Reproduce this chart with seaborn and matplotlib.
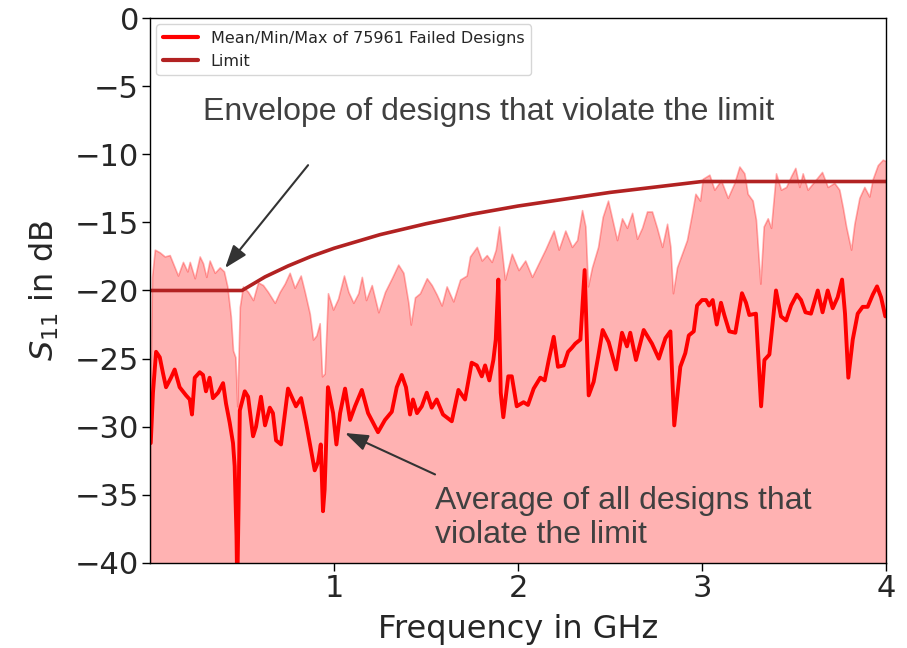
# S11 der fehlgeschlagenen Designs: Mittelwert, Hüllkurve und Grenzwert
import numpy as np
import matplotlib
matplotlib.use("Agg")
import matplotlib.pyplot as plt
import seaborn as sns

# --- Daten ---
mean_freq = [0.004, 0.016, 0.033, 0.053, 0.071, 0.087, 0.114, 0.134, 0.161, 0.196,
             0.216, 0.228, 0.243, 0.270, 0.288, 0.304, 0.324, 0.342, 0.370, 0.397,
             0.413, 0.433, 0.451, 0.460, 0.470, 0.474, 0.481, 0.488, 0.515, 0.533,
             0.560, 0.576, 0.603, 0.625, 0.651, 0.668, 0.685, 0.712, 0.750, 0.793,
             0.821, 0.848, 0.875, 0.895, 0.913, 0.928, 0.940, 0.949, 0.967, 0.995,
             1.013, 1.033, 1.060, 1.087, 1.114, 1.151, 1.185, 1.212, 1.239, 1.277,
             1.314, 1.341, 1.368, 1.391, 1.413, 1.429, 1.451, 1.477, 1.504, 1.531,
             1.558, 1.592, 1.640, 1.676, 1.712, 1.748, 1.776, 1.803, 1.821, 1.844,
             1.866, 1.879, 1.893, 1.906, 1.920, 1.947, 1.966, 1.993, 2.030, 2.054,
             2.085, 2.121, 2.145, 2.167, 2.194, 2.217, 2.248, 2.272, 2.293, 2.311,
             2.339, 2.362, 2.384, 2.411, 2.435, 2.460, 2.493, 2.533, 2.565, 2.592,
             2.610, 2.641, 2.683, 2.728, 2.765, 2.801, 2.828, 2.849, 2.882, 2.909,
             2.928, 2.955, 2.973, 3.000, 3.022, 3.038, 3.058, 3.080, 3.103, 3.121,
             3.148, 3.181, 3.217, 3.239, 3.257, 3.293, 3.321, 3.339, 3.366, 3.402,
             3.429, 3.457, 3.484, 3.515, 3.538, 3.562, 3.592, 3.629, 3.655, 3.683,
             3.710, 3.737, 3.761, 3.777, 3.795, 3.819, 3.846, 3.873, 3.900, 3.928,
             3.951, 3.973, 3.996]
mean_db = [-31.2, -27.5, -24.5, -24.9, -26.1, -27.1, -26.4, -25.8, -27.1, -27.7,
           -28.0, -29.1, -26.4, -26.0, -26.2, -27.4, -26.4, -27.9, -27.5, -26.8,
           -28.3, -29.7, -31.2, -32.9, -38.0, -42.0, -36.0, -28.8, -27.4, -27.8,
           -30.7, -30.0, -27.8, -29.9, -28.6, -29.0, -31.0, -31.3, -27.2, -28.5,
           -27.9, -29.7, -31.7, -33.2, -32.6, -31.3, -36.2, -34.6, -27.1, -29.0,
           -31.3, -29.0, -27.2, -29.5, -28.5, -27.3, -29.0, -29.7, -30.4, -29.5,
           -28.9, -27.1, -26.2, -27.1, -29.1, -28.0, -29.0, -28.5, -27.5, -28.6,
           -28.0, -29.1, -29.6, -27.3, -28.0, -25.3, -25.5, -26.3, -25.5, -26.6,
           -25.1, -23.6, -19.2, -27.5, -29.3, -26.3, -26.3, -28.5, -28.2, -28.4,
           -27.2, -26.4, -26.6, -25.1, -23.4, -25.6, -25.5, -24.5, -24.2, -23.9,
           -23.6, -18.5, -27.7, -26.7, -24.9, -22.9, -23.8, -25.8, -23.1, -24.1,
           -23.1, -25.1, -22.9, -23.9, -25.0, -23.5, -23.0, -29.9, -25.6, -24.6,
           -23.3, -23.0, -21.1, -20.7, -20.7, -21.1, -20.7, -22.5, -20.9, -21.8,
           -23.0, -23.1, -20.2, -20.9, -21.8, -21.7, -28.5, -25.1, -24.7, -20.0,
           -21.9, -22.2, -21.1, -20.3, -20.7, -21.6, -21.7, -20.0, -21.6, -20.0,
           -21.3, -20.5, -19.2, -21.7, -26.4, -23.6, -21.7, -21.2, -21.2, -20.3,
           -19.7, -20.5, -21.9]

max_freq = [0.000, 0.011, 0.026, 0.053, 0.080, 0.107, 0.134, 0.152, 0.179, 0.203,
            0.216, 0.243, 0.270, 0.288, 0.306, 0.324, 0.352, 0.379, 0.402, 0.420,
            0.439, 0.451, 0.464, 0.474, 0.488, 0.505, 0.533, 0.560, 0.587, 0.614,
            0.641, 0.678, 0.705, 0.732, 0.759, 0.786, 0.819, 0.841, 0.868, 0.886,
            0.904, 0.922, 0.935, 0.949, 0.967, 0.995, 1.022, 1.054, 1.078, 1.105,
            1.132, 1.151, 1.174, 1.205, 1.241, 1.277, 1.314, 1.349, 1.377, 1.404,
            1.417, 1.440, 1.467, 1.504, 1.531, 1.558, 1.585, 1.612, 1.648, 1.685,
            1.721, 1.739, 1.776, 1.803, 1.830, 1.857, 1.879, 1.897, 1.911, 1.929,
            1.966, 2.003, 2.039, 2.076, 2.112, 2.148, 2.194, 2.221, 2.257, 2.293,
            2.321, 2.348, 2.366, 2.380, 2.402, 2.435, 2.460, 2.489, 2.511, 2.538,
            2.565, 2.592, 2.620, 2.647, 2.674, 2.701, 2.728, 2.755, 2.783, 2.810,
            2.828, 2.842, 2.864, 2.891, 2.918, 2.946, 2.964, 2.989, 3.004, 3.040,
            3.067, 3.103, 3.140, 3.176, 3.203, 3.230, 3.248, 3.275, 3.293, 3.317,
            3.335, 3.357, 3.375, 3.402, 3.429, 3.457, 3.484, 3.507, 3.529, 3.547,
            3.574, 3.610, 3.652, 3.683, 3.719, 3.746, 3.765, 3.783, 3.810, 3.828,
            3.855, 3.882, 3.909, 3.928, 3.955, 3.982, 4.000]
max_db = [-30.0, -19.0, -17.0, -17.2, -17.5, -17.4, -18.3, -18.9, -17.9, -18.6,
          -17.9, -19.1, -17.5, -18.0, -19.0, -17.8, -18.7, -18.3, -18.6, -19.7,
          -21.9, -24.4, -24.9, -28.5, -21.2, -19.7, -20.1, -20.7, -19.4, -19.6,
          -20.1, -20.9, -20.1, -19.5, -18.7, -19.8, -18.9, -20.1, -21.7, -23.6,
          -23.3, -22.4, -26.3, -26.1, -20.2, -21.4, -20.6, -18.9, -20.1, -20.9,
          -20.2, -19.0, -20.7, -19.6, -21.6, -20.1, -19.1, -18.1, -18.7, -20.9,
          -22.5, -20.5, -20.2, -19.1, -19.6, -20.3, -21.1, -19.7, -20.8, -19.2,
          -18.9, -17.5, -16.8, -17.8, -17.4, -17.9, -17.0, -15.3, -17.0, -19.2,
          -17.3, -18.5, -17.8, -19.0, -18.0, -17.0, -15.6, -17.0, -15.6, -16.8,
          -16.3, -14.1, -15.3, -19.7, -18.3, -16.8, -14.6, -13.4, -14.7, -16.3,
          -14.7, -15.4, -14.3, -16.2, -15.4, -14.2, -14.2, -15.4, -16.8, -15.1,
          -16.8, -20.2, -18.3, -17.3, -16.3, -14.3, -12.9, -13.4, -11.8, -11.5,
          -12.6, -11.9, -13.2, -12.1, -10.9, -11.4, -12.9, -13.4, -14.8, -19.5,
          -15.3, -14.7, -15.4, -11.4, -12.6, -12.4, -11.6, -11.0, -12.4, -11.4,
          -12.6, -12.0, -11.3, -12.4, -12.1, -12.6, -13.9, -15.3, -17.0, -15.1,
          -13.2, -12.4, -13.1, -11.8, -10.8, -10.4, -10.5]
min_db = -48.0  # Minimum liegt überall unterhalb der Achse

limit_freq = [0.0, 0.5, 0.625, 0.75, 0.875, 1.0, 1.25, 1.5, 1.75, 2.0, 2.25, 2.5, 2.75, 3.0, 4.0]
limit_db = [-20.0, -20.0, -19.0, -18.2, -17.5, -16.9, -15.9, -15.1, -14.4, -13.8, -13.3, -12.8, -12.4, -12.0, -12.0]

n_failed = 75961

# --- Plot ---
sns.set_style("ticks")
plt.rcParams["font.family"] = ["DejaVu Sans"]

fig = plt.figure(figsize=(9.07, 6.48), dpi=100)
ax = fig.add_axes([0.1654, 0.1312, 0.8115, 0.841])

ax.fill_between(max_freq, max_db, min_db, color="red", alpha=0.3, linewidth=1.2)
sns.lineplot(x=mean_freq, y=mean_db, ax=ax, color="red", linewidth=2.8,
             estimator=None, label=f"Mean/Min/Max of {n_failed} Failed Designs")
sns.lineplot(x=limit_freq, y=limit_db, ax=ax, color="firebrick", linewidth=2.6,
             estimator=None, label="Limit")

ax.set_xlim(0, 4)
ax.set_ylim(-40, 0)
ax.set_xticks([1, 2, 3, 4])
ax.set_yticks(np.arange(-40, 1, 5))
ax.tick_params(labelsize=22, length=6, width=1, color="black", pad=2)
for s in ax.spines.values():
    s.set_color("black")
    s.set_linewidth(1.0)
ax.set_xlabel("Frequency in GHz", fontsize=23, labelpad=8)
ax.set_ylabel(r"$S_{11}$ in dB", fontsize=23, labelpad=10)

leg = ax.legend(loc="upper left", fontsize=11.5, borderaxespad=0.4,
                handlelength=2.2)
for line in leg.get_lines():
    line.set_linewidth(3)

# Anmerkungen mit Pfeilen
arrow = dict(arrowstyle="-|>,head_length=0.7,head_width=0.25", color="#333333",
             lw=1.5, mutation_scale=20, shrinkA=0, shrinkB=0)
ax.annotate("", xy=(0.408, -18.35), xytext=(0.859, -10.8), arrowprops=arrow)
ax.annotate("", xy=(1.060, -30.46), xytext=(1.549, -33.5), arrowprops=arrow)
ax.text(0.288, -6.9, "Envelope of designs that violate the limit", fontsize=23,
        family="Liberation Sans", color="#404040", va="center", ha="left")
ax.text(1.549, -36.7, "Average of all designs that\nviolate the limit", fontsize=23,
        family="Liberation Sans", color="#404040", va="center", ha="left",
        linespacing=1.2)

plt.savefig("out.png", dpi=100)
